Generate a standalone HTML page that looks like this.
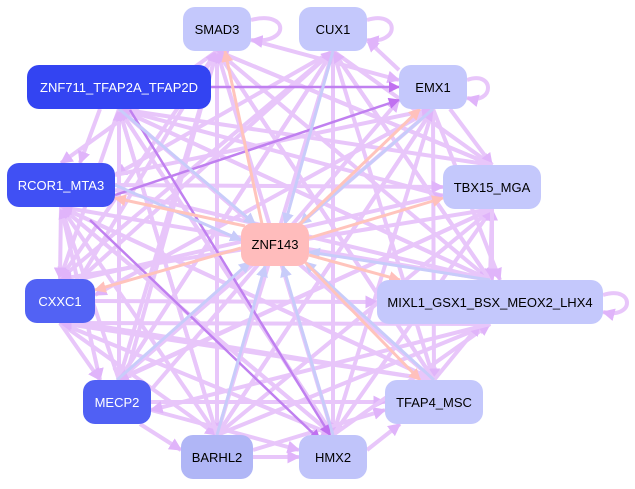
<!DOCTYPE html>
<html><head><style>
body{margin:0;background:#fff;}
svg{display:block;}
text{font-family:"Liberation Sans",sans-serif;font-size:13px;}
</style></head><body>
<svg width="635" height="489" viewBox="0 0 635 489" xmlns="http://www.w3.org/2000/svg">
<defs>
<marker id="a" viewBox="0 0 10 10" refX="9" refY="5" markerWidth="3.2" markerHeight="3.2" orient="auto"><path d="M0,0L10,5L0,10z" fill="#e0b4fa"/></marker>
<marker id="b" viewBox="0 0 10 10" refX="9" refY="5" markerWidth="4" markerHeight="4" orient="auto"><path d="M0,0L10,5L0,10z" fill="#c8ccfa"/></marker>
<marker id="c" viewBox="0 0 10 10" refX="9" refY="5" markerWidth="4" markerHeight="4" orient="auto"><path d="M0,0L10,5L0,10z" fill="#ffc0bc"/></marker>
<marker id="d" viewBox="0 0 10 10" refX="9" refY="5" markerWidth="4.5" markerHeight="4.5" orient="auto"><path d="M0,0L10,5L0,10z" fill="#c070f0"/></marker>
</defs>
<g stroke="#e8c6fa" stroke-width="4" fill="none" marker-end="url(#a)">
<line x1="217" y1="51" x2="119" y2="402"/><line x1="217" y1="51" x2="217" y2="435"/><line x1="217" y1="51" x2="333" y2="435"/>
<line x1="217" y1="51" x2="434" y2="380"/><line x1="217" y1="51" x2="490" y2="280"/><line x1="217" y1="51" x2="492" y2="165"/>
<line x1="217" y1="51" x2="61" y2="163"/><line x1="217" y1="51" x2="60" y2="279"/><line x1="251" y1="40" x2="399" y2="80"/>
<line x1="333" y1="51" x2="119" y2="380"/><line x1="333" y1="51" x2="217" y2="435"/><line x1="333" y1="51" x2="333" y2="435"/>
<line x1="333" y1="51" x2="434" y2="380"/><line x1="333" y1="51" x2="490" y2="280"/><line x1="333" y1="51" x2="60" y2="279"/>
<line x1="333" y1="51" x2="492" y2="165"/><line x1="333" y1="51" x2="115" y2="175"/>
<line x1="433" y1="109" x2="119" y2="380"/><line x1="433" y1="109" x2="217" y2="435"/><line x1="433" y1="109" x2="333" y2="435"/>
<line x1="433" y1="109" x2="434" y2="380"/><line x1="433" y1="109" x2="500" y2="280"/><line x1="433" y1="109" x2="95" y2="295"/>
<line x1="450" y1="109" x2="492" y2="165"/><line x1="399" y1="70" x2="367" y2="40"/>
<line x1="119" y1="109" x2="217" y2="435"/><line x1="119" y1="109" x2="333" y2="435"/><line x1="119" y1="109" x2="434" y2="380"/>
<line x1="119" y1="109" x2="490" y2="280"/><line x1="119" y1="109" x2="492" y2="209"/><line x1="119" y1="109" x2="119" y2="380"/>
<line x1="119" y1="109" x2="60" y2="279"/><line x1="100" y1="109" x2="80" y2="163"/>
<line x1="61" y1="207" x2="217" y2="435"/><line x1="61" y1="207" x2="333" y2="435"/><line x1="61" y1="207" x2="434" y2="380"/>
<line x1="115" y1="190" x2="490" y2="280"/><line x1="115" y1="185" x2="443" y2="187"/><line x1="61" y1="207" x2="60" y2="279"/>
<line x1="61" y1="207" x2="100" y2="380"/><line x1="115" y1="175" x2="433" y2="109"/>
<line x1="95" y1="301" x2="377" y2="302"/><line x1="60" y1="323" x2="217" y2="435"/><line x1="60" y1="323" x2="333" y2="435"/>
<line x1="80" y1="323" x2="434" y2="380"/><line x1="60" y1="323" x2="100" y2="380"/><line x1="80" y1="279" x2="443" y2="195"/>
<line x1="80" y1="279" x2="333" y2="51"/><line x1="80" y1="279" x2="217" y2="51"/>
<line x1="151" y1="402" x2="385" y2="402"/><line x1="151" y1="410" x2="299" y2="450"/><line x1="140" y1="424" x2="181" y2="450"/>
<line x1="119" y1="380" x2="492" y2="209"/><line x1="151" y1="390" x2="399" y2="100"/><line x1="119" y1="380" x2="333" y2="51"/>
<line x1="119" y1="380" x2="217" y2="51"/><line x1="119" y1="380" x2="119" y2="109"/><line x1="119" y1="380" x2="61" y2="207"/>
<line x1="217" y1="435" x2="490" y2="324"/><line x1="217" y1="435" x2="492" y2="209"/><line x1="217" y1="435" x2="433" y2="109"/>
<line x1="217" y1="435" x2="119" y2="109"/><line x1="253" y1="457" x2="299" y2="457"/><line x1="253" y1="450" x2="385" y2="410"/>
<line x1="333" y1="435" x2="490" y2="324"/><line x1="333" y1="435" x2="492" y2="209"/><line x1="333" y1="435" x2="119" y2="109"/>
<line x1="333" y1="435" x2="61" y2="207"/><line x1="367" y1="450" x2="400" y2="424"/>
<line x1="434" y1="380" x2="119" y2="109"/><line x1="434" y1="380" x2="217" y2="51"/><line x1="434" y1="380" x2="60" y2="323"/>
<line x1="434" y1="380" x2="480" y2="324"/><line x1="434" y1="380" x2="61" y2="207"/>
<line x1="490" y1="280" x2="492" y2="209"/><line x1="490" y1="280" x2="119" y2="109"/><line x1="490" y1="280" x2="61" y2="207"/>
<line x1="490" y1="324" x2="151" y2="410"/><line x1="490" y1="324" x2="60" y2="323"/><line x1="490" y1="280" x2="333" y2="51"/>
<line x1="492" y1="165" x2="119" y2="109"/><line x1="492" y1="165" x2="217" y2="51"/><line x1="492" y1="209" x2="117" y2="380"/>
<line x1="492" y1="209" x2="492" y2="280"/><line x1="492" y1="209" x2="60" y2="279"/>
<path d="M251,20 C290,10 290,45 251,40"/><path d="M367,20 C400,10 400,45 367,40"/><path d="M467,80 C495,70 495,105 467,98"/>
<path d="M603,295 C635,285 635,320 603,312"/>
</g>
<g stroke="#c080f0" stroke-width="2.5" marker-end="url(#d)">
<line x1="211" y1="87" x2="399" y2="87"/><line x1="90" y1="220" x2="320" y2="440"/><line x1="130" y1="110" x2="330" y2="435"/><line x1="115" y1="195" x2="399" y2="100"/>
</g>
<g stroke="#c8ccfa" stroke-width="3" marker-end="url(#b)">
<line x1="119" y1="109" x2="255" y2="224"/><line x1="333" y1="51" x2="285" y2="224"/><line x1="433" y1="109" x2="300" y2="224"/>
<line x1="117" y1="380" x2="250" y2="262"/><line x1="217" y1="435" x2="265" y2="266"/><line x1="333" y1="435" x2="283" y2="266"/>
<line x1="434" y1="380" x2="305" y2="262"/><line x1="490" y1="280" x2="309" y2="252"/><line x1="115" y1="185" x2="241" y2="240"/>
</g>
<g stroke="#ffc4bc" stroke-width="3" marker-end="url(#c)">
<line x1="262" y1="224" x2="225" y2="51"/><line x1="309" y1="238" x2="443" y2="198"/><line x1="241" y1="248" x2="95" y2="290"/>
<line x1="245" y1="226" x2="115" y2="198"/><line x1="300" y1="224" x2="420" y2="109"/><line x1="309" y1="255" x2="400" y2="280"/>
<line x1="305" y1="262" x2="420" y2="380"/>
</g>
<g font-family="Liberation Sans, sans-serif" font-size="13" text-anchor="middle">
<rect x="183" y="7" width="68" height="44" rx="12" fill="#c4c8fc"/><text x="217" y="34">SMAD3</text>
<rect x="299" y="7" width="68" height="44" rx="12" fill="#c4c8fc"/><text x="333" y="34">CUX1</text>
<rect x="399" y="65" width="68" height="44" rx="12" fill="#c4c8fc"/><text x="433" y="92">EMX1</text>
<rect x="27" y="65" width="184" height="44" rx="12" fill="#3344f2"/><text x="119" y="92" fill="#fff">ZNF711_TFAP2A_TFAP2D</text>
<rect x="7" y="163" width="108" height="44" rx="12" fill="#4050f4"/><text x="61" y="190" fill="#fff">RCOR1_MTA3</text>
<rect x="443" y="165" width="98" height="44" rx="12" fill="#c4c8fc"/><text x="492" y="192">TBX15_MGA</text>
<rect x="241" y="223" width="68" height="43" rx="12" fill="#ffbcbc"/><text x="275" y="249">ZNF143</text>
<rect x="25" y="279" width="70" height="44" rx="12" fill="#5262f4"/><text x="60" y="306" fill="#fff">CXXC1</text>
<rect x="377" y="280" width="226" height="44" rx="12" fill="#c4c8fc"/><text x="490" y="307">MIXL1_GSX1_BSX_MEOX2_LHX4</text>
<rect x="83" y="380" width="68" height="44" rx="12" fill="#5060f4"/><text x="117" y="407" fill="#fff">MECP2</text>
<rect x="385" y="380" width="98" height="44" rx="12" fill="#c4c8fc"/><text x="434" y="407">TFAP4_MSC</text>
<rect x="181" y="435" width="72" height="44" rx="12" fill="#b0b6f6"/><text x="217" y="462">BARHL2</text>
<rect x="299" y="435" width="68" height="44" rx="12" fill="#c0c4fa"/><text x="333" y="462">HMX2</text>
</g>
</svg>
</body></html>
